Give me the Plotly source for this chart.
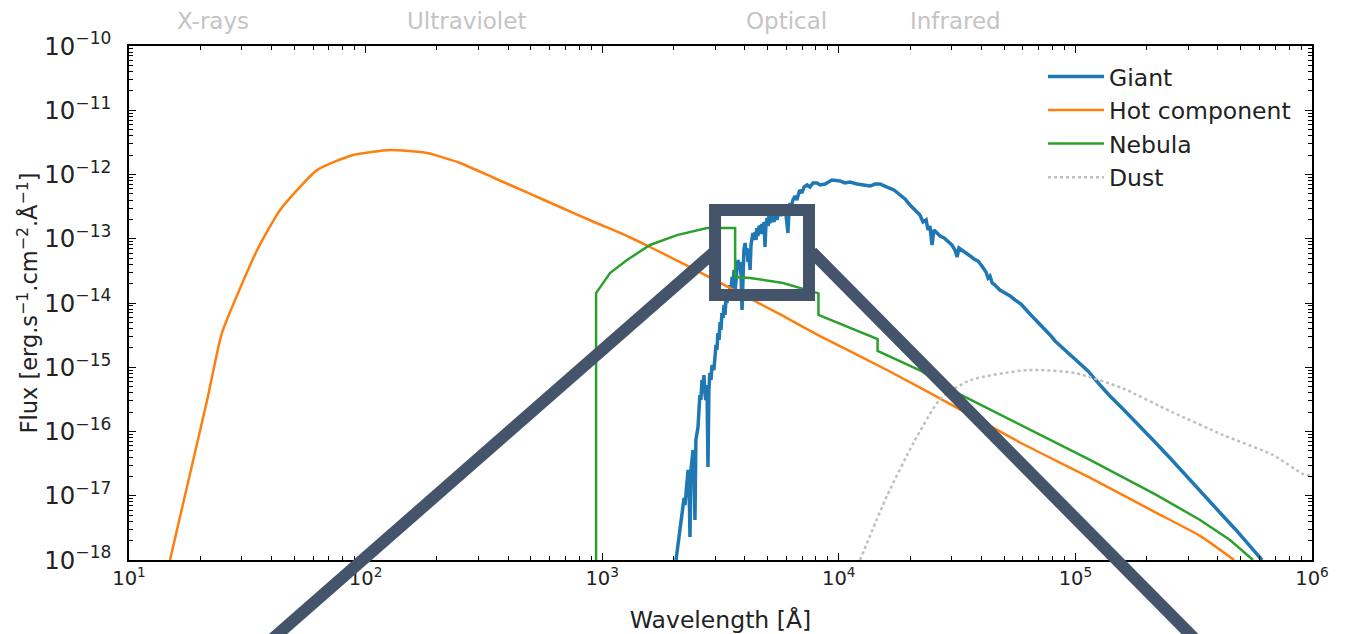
import numpy as np
import plotly.graph_objects as go

# ---------------- data ----------------
# Giant spectrum, given as log10(wavelength [Å]) and log10(flux)
giant_log_wl = [3.312, 3.320, 3.329, 3.337, 3.346, 3.350, 3.354, 3.363, 3.367, 3.371, 3.375, 3.380,
                3.384, 3.388, 3.392, 3.396, 3.401, 3.405, 3.409, 3.413, 3.417, 3.422, 3.426, 3.430,
                3.434, 3.438, 3.443, 3.447, 3.451, 3.455, 3.460, 3.464, 3.472, 3.477, 3.481, 3.485,
                3.489, 3.494, 3.498, 3.502, 3.506, 3.511, 3.515, 3.519, 3.523, 3.527, 3.532, 3.536,
                3.540, 3.544, 3.549, 3.553, 3.557, 3.561, 3.566, 3.570, 3.574, 3.578, 3.582, 3.587,
                3.591, 3.595, 3.599, 3.604, 3.608, 3.612, 3.616, 3.620, 3.625, 3.629, 3.633, 3.637,
                3.642, 3.646, 3.650, 3.654, 3.658, 3.663, 3.667, 3.671, 3.675, 3.680, 3.684, 3.688,
                3.692, 3.697, 3.701, 3.705, 3.709, 3.718, 3.726, 3.735, 3.739, 3.747, 3.756, 3.764,
                3.773, 3.777, 3.785, 3.790, 3.794, 3.798, 3.806, 3.815, 3.823, 3.832, 3.836, 3.844,
                3.853, 3.866, 3.878, 3.891, 3.908, 3.921, 3.942, 3.971, 4.005, 4.026, 4.047, 4.077,
                4.102, 4.132, 4.153, 4.174, 4.204, 4.233, 4.259, 4.280, 4.301, 4.322, 4.343, 4.356,
                4.369, 4.377, 4.385, 4.394, 4.402, 4.411, 4.428, 4.445, 4.462, 4.478, 4.491, 4.500,
                4.508, 4.521, 4.538, 4.555, 4.571, 4.588, 4.605, 4.622, 4.631, 4.639, 4.648, 4.660,
                4.681, 4.702, 4.724, 4.745, 4.770, 4.808, 4.850, 4.893, 4.914, 4.956, 4.998, 5.053,
                5.104, 5.146, 5.197, 5.252, 5.294, 5.336, 5.400, 5.442, 5.480, 5.527, 5.569, 5.624,
                5.675, 5.717, 5.759, 5.789]
giant_log_flux = [-18.0, -17.766, -17.580, -17.377, -17.035, -17.144, -16.910, -16.599, -16.755,
                  -17.642, -16.599, -16.366, -16.288, -16.599, -17.377, -16.132, -16.008, -15.930,
                  -15.665, -15.432, -15.510, -15.198, -15.385, -15.121, -15.401, -15.510, -15.276,
                  -16.552, -15.354, -15.089, -15.198, -14.965, -15.043, -14.887, -14.654, -14.731,
                  -14.467, -14.576, -14.296, -14.420, -14.156, -14.233, -14.031, -14.187, -13.953,
                  -14.000, -13.875, -13.953, -13.720, -13.829, -13.595, -13.720, -13.486, -13.844,
                  -13.517, -13.455, -13.331, -13.486, -13.362, -13.564, -14.109, -13.300, -13.175,
                  -13.066, -13.253, -13.144, -13.362, -13.175, -13.486, -13.097, -12.988, -12.910,
                  -13.019, -12.895, -13.019, -12.833, -12.957, -12.802, -12.817, -12.926, -12.770,
                  -12.864, -12.739, -13.128, -12.786, -12.677, -12.802, -12.630, -12.755, -12.615,
                  -12.739, -12.584, -12.708, -12.521, -12.646, -12.552, -12.475, -12.630, -12.910,
                  -12.552, -12.444, -12.521, -12.397, -12.335, -12.397, -12.272, -12.241, -12.288,
                  -12.195, -12.163, -12.195, -12.132, -12.132, -12.163, -12.148, -12.086, -12.101,
                  -12.132, -12.117, -12.148, -12.163, -12.179, -12.148, -12.148, -12.195, -12.241,
                  -12.319, -12.381, -12.475, -12.552, -12.630, -12.739, -12.708, -12.864, -12.802,
                  -13.097, -12.864, -12.895, -12.957, -12.988, -13.050, -13.097, -13.175, -13.284,
                  -13.144, -13.175, -13.222, -13.268, -13.315, -13.346, -13.424, -13.517, -13.611,
                  -13.580, -13.689, -13.720, -13.798, -13.844, -13.891, -13.953, -14.016, -14.171,
                  -14.327, -14.498, -14.591, -14.731, -14.872, -15.058, -15.276, -15.447, -15.634,
                  -15.837, -16.008, -16.163, -16.412, -16.584, -16.739, -16.926, -17.097, -17.315,
                  -17.517, -17.704, -17.875, -18.0]

hot_wl = [14.9, 21.4, 24.7, 34.8, 43.5, 62.3, 88.4, 126.8, 181.8, 250.6, 345.6, 481, 663, 914,
          1273, 1592, 2420, 3369, 5811, 8328, 15980, 30690, 58900, 113600, 216800, 336500, 468200]
hot_flux = [1.0e-18, 3.09e-16, 3.41e-15, 6.68e-14, 2.80e-13, 1.17e-12, 2.01e-12, 2.40e-12,
            2.16e-12, 1.51e-12, 8.98e-13, 5.25e-13, 3.12e-13, 1.855e-13, 1.104e-13, 7.44e-14,
            3.44e-14, 1.81e-14, 6.28e-15, 3.06e-15, 9.06e-16, 2.49e-16, 6.62e-17, 1.96e-17,
            5.58e-18, 2.37e-18, 1.0e-18]

neb_wl = [942, 942, 1079, 1273, 1592, 2070, 2773, 3646, 3646, 4214, 5811, 8204, 8204, 14588,
          14588, 22250, 32850, 58900, 113600, 216800, 336500, 450200, 563200]
neb_flux = [1.0e-19, 1.43e-14, 2.93e-14, 4.67e-14, 8.00e-14, 1.14e-13, 1.47e-13, 1.47e-13,
            2.54e-14, 2.45e-14, 2.05e-14, 1.41e-14, 6.5e-15, 2.75e-15, 1.79e-15, 8.75e-16,
            3.70e-16, 1.26e-16, 3.73e-17, 1.06e-17, 4.20e-18, 2.05e-18, 1.0e-18]

dust_wl = [12290, 15980, 20790, 27040, 36210, 63050, 99600, 157400, 255900, 420600, 684000,
           916000, 1000000]
dust_flux = [1.0e-18, 9.91e-18, 6.87e-17, 3.32e-16, 6.33e-16, 9.06e-16, 8.13e-16, 4.75e-16,
             2.01e-16, 8.83e-17, 4.31e-17, 2.18e-17, 2.04e-17]

x_exponents = [1, 2, 3, 4, 5, 6]
region_labels = ["X-rays", "Ultraviolet", "Optical", "Infrared"]
region_wl = [22.6, 268, 5985, 31260]

FONT = "DejaVu Sans"
TXT = "#222222"

giant_wl = [10 ** v for v in giant_log_wl]
giant_flux = [10 ** v for v in giant_log_flux]

fig = go.Figure()
fig.add_trace(go.Scatter(x=giant_wl, y=giant_flux, mode="lines", name="Giant",
                         legendgroup="a", line=dict(color="#1f77b4", width=3.5)))
fig.add_trace(go.Scatter(x=hot_wl, y=hot_flux, mode="lines", name="Hot component",
                         legendgroup="b", line=dict(color="#ff7f0e", width=2.5, shape="spline", smoothing=0.5)))
fig.add_trace(go.Scatter(x=neb_wl, y=neb_flux, mode="lines", name="Nebula",
                         legendgroup="c", line=dict(color="#2ca02c", width=2.5)))
fig.add_trace(go.Scatter(x=dust_wl, y=dust_flux, mode="lines", name="Dust",
                         legendgroup="d", line=dict(color="#bfbfbf", width=2.5, dash="dot", shape="spline", smoothing=0.6)))

axis_common = dict(type="log", showgrid=False, zeroline=False, showline=True, linecolor="black",
                   linewidth=1.5, mirror="allticks", ticks="inside", ticklen=7, tickwidth=1.2,
                   tickcolor="black", automargin=False,
                   tickfont=dict(family=FONT, size=19.5, color=TXT),
                   minor=dict(ticks="inside", ticklen=4, tickcolor="black", dtick="D1", showgrid=False))

fig.update_xaxes(range=[1, 6], tickmode="array",
                 tickvals=[10 ** e for e in x_exponents],
                 ticktext=[f"10<sup>{e}</sup>" for e in x_exponents],
                 title=dict(text="Wavelength [Å]", font=dict(family=FONT, size=23.5, color=TXT), standoff=22),
                 **axis_common)
fig.update_yaxes(range=[-18, -10], dtick=1, exponentformat="power", showexponent="all",
                 title=dict(text="Flux [erg.s<sup>−1</sup>.cm<sup>−2</sup>.Å<sup>−1</sup>]",
                            font=dict(family=FONT, size=22.5, color=TXT), standoff=0),
                 ticklabelstandoff=12, **axis_common)

for lab, wl in zip(region_labels, region_wl):
    fig.add_annotation(x=np.log10(wl), y=1.0486, xref="x", yref="paper", text=lab, showarrow=False,
                       font=dict(family=FONT, size=23, color="#c4c4c4"), yanchor="middle")

# callout overlay (decoration drawn on top of the chart, in paper units)
slate = "#44546a"
fig.add_shape(type="rect", xref="paper", yref="paper", x0=0.4954, x1=0.5748, y0=0.5156, y1=0.6809,
              line=dict(color=slate, width=12), layer="above")
fig.add_shape(type="line", xref="paper", yref="paper", x0=0.4937, y0=0.5973, x1=0.1105, y1=-0.1751,
              line=dict(color=slate, width=12), layer="above")
fig.add_shape(type="line", xref="paper", yref="paper", x0=0.5773, y0=0.5992, x1=0.9102, y1=-0.1751,
              line=dict(color=slate, width=12), layer="above")

fig.update_layout(width=1347, height=626, margin=dict(l=121, r=43, t=38, b=74),
                  plot_bgcolor="white", paper_bgcolor="white",
                  legend=dict(x=0.7726, y=0.983, xanchor="left", yanchor="top", bgcolor="rgba(0,0,0,0)",
                              font=dict(family=FONT, size=23.5, color=TXT), itemwidth=56,
                              tracegroupgap=0),
                  font=dict(family=FONT))

fig.write_html("out.html")
